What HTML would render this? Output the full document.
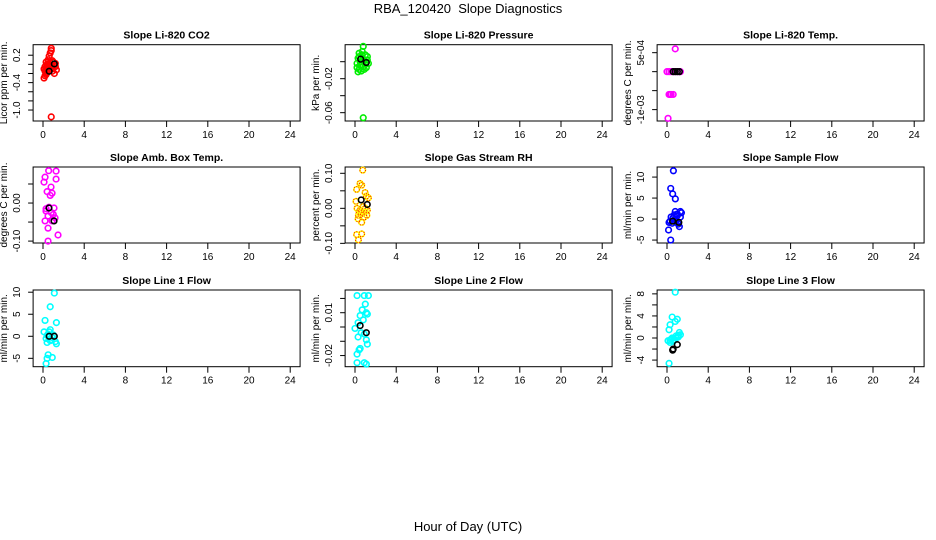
<!DOCTYPE html>
<html><head><meta charset="utf-8">
<style>
html,body{margin:0;padding:0;background:#fff;}
svg{display:block;font-family:"Liberation Sans",Arial,sans-serif;}
</style></head>
<body>
<svg id="chart" width="936" height="540" viewBox="0 0 936 540" xmlns="http://www.w3.org/2000/svg">
<rect x="0" y="0" width="936" height="540" fill="#fff"/>
<text x="468" y="13" text-anchor="middle" font-size="13">RBA_120420&#160; Slope Diagnostics</text>
<text x="468" y="531" text-anchor="middle" font-size="13">Hour of Day (UTC)</text>
</svg>
<script>
const xTicks = [0,4,8,12,16,20,24];

const p1Hours = [0.8,0.8,0.7,0.6,0.5,0.3,0.5,0.9,1.1,0.2,0.4,0.7,1.2,0.1,0.6,0.9,1.3,0.4,1.1,0.2,0.1,0.3,0.8,1.0,0.6,0.3,0.4,0.7,1.0,1.2,0.2,0.5,0.9];
const p1Values = [0.35,0.3,0.25,0.18,0.1,0.05,0.05,0.08,0.0,-0.05,-0.05,-0.02,-0.05,-0.1,-0.12,-0.1,-0.12,-0.18,-0.2,-0.25,-0.3,-0.22,-1.15,0.05,0.0,-0.1,0.0,0.04,-0.08,0.02,-0.15,-0.08,-0.15];
const p1BlackHours = [0.6,1.1];
const p1BlackValues = [-0.15,0.01];

const p2Hours = [0.8,0.4,0.7,1.0,1.2,0.3,0.6,0.9,1.3,0.2,0.5,0.8,1.1,0.4,0.3,0.6,1.0,0.5,0.7,0.9,0.2,0.4,1.2,0.8];
const p2Values = [0.018,0.01,0.012,0.008,0.006,0.004,0.005,0.002,-0.002,-0.002,-0.004,-0.006,-0.007,-0.009,-0.012,-0.011,-0.003,0.0,0.008,-0.009,-0.007,0.006,0.002,-0.066];
const p2BlackHours = [0.55,1.1];
const p2BlackValues = [0.003,-0.001];

const p3Hours = [0.8,0.0,0.2,0.4,0.6,0.8,1.0,1.2,1.3,0.2,0.4,0.6,0.3,0.1];
const p3Values = [0.0006,0,0,0,0,0,0,0,0,-0.0006,-0.0006,-0.0006,-0.0006,-0.00123];
const p3BlackHours = [0.6,0.8,1.0,1.2];
const p3BlackValues = [0,0,0,0];

const p4Hours = [0.55,1.27,0.2,0.1,1.27,0.78,0.88,0.58,1.07,0.29,0.49,0.2,0.88,1.17,0.49,1.46,0.49,0.3,0.8,1.0,0.4,0.7];
const p4Values = [0.085,0.084,0.068,0.055,0.063,0.042,0.026,-0.011,-0.013,-0.021,-0.034,-0.047,-0.047,-0.039,-0.066,-0.084,-0.1,-0.015,-0.025,-0.03,0.03,0.02];
const p4BlackHours = [0.58,1.07];
const p4BlackValues = [-0.013,-0.047];

const p5Hours = [0.75,0.49,0.16,0.65,0.98,1.3,0.1,0.49,0.98,0.33,1.15,0.65,0.16,0.65,0.33,0.2,0.8,1.1,0.4,0.9,1.2,0.6,0.3,1.0];
const p5Values = [0.109,0.071,0.054,0.066,0.045,0.03,0.02,-0.005,-0.01,-0.02,-0.02,-0.04,-0.075,-0.073,-0.09,0.0,0.005,0.035,-0.01,-0.025,-0.005,-0.015,-0.03,0.0];
const p5BlackHours = [0.6,1.19];
const p5BlackValues = [0.024,0.011];

const p6Hours = [0.62,0.36,0.55,0.81,0.8,1.3,1.0,0.7,0.4,0.3,1.1,1.4,0.9,0.2,1.2,0.15,0.36,0.6,1.0,1.3,0.5,0.8];
const p6Values = [11.5,7.3,6.0,4.8,1.8,1.8,1.2,1.0,0.5,-0.5,-1.2,1.5,-0.3,-0.8,-1.8,-2.6,-5.0,0.3,0.8,0.5,-1.0,-0.6];
const p6BlackHours = [0.55,1.15];
const p6BlackValues = [-0.5,-0.8];

const p7Hours = [1.1,0.7,0.2,1.3,0.1,0.7,0.5,1.0,0.3,0.8,1.2,0.4,1.3,0.5,0.9,0.4,0.3,0.6,0.9,0.4,0.7];
const p7Values = [9.8,6.7,3.6,3.1,1.0,1.5,0.5,0.3,-0.5,-0.8,-1.2,-1.4,-1.7,-4.2,-4.8,-5.0,-6.2,1.0,-0.3,0.2,-1.0];
const p7BlackHours = [0.6,1.1];
const p7BlackValues = [0,0];

const p8Hours = [0.2,0.9,1.3,1.0,0.7,1.2,0.5,1.1,0.8,0.3,0.0,0.6,0.9,0.3,1.1,1.2,0.5,0.4,0.2,0.2,0.9,1.1];
const p8Values = [0.022,0.022,0.022,0.016,0.012,0.009,0.008,0.01,0.005,0.003,-0.001,-0.004,-0.005,-0.007,-0.009,-0.012,-0.015,-0.016,-0.019,-0.025,-0.025,-0.026];
const p8BlackHours = [0.5,1.1];
const p8BlackValues = [0.001,-0.004];

const p9Hours = [0.8,0.5,1.0,0.8,0.3,0.2,1.3,0.9,0.5,0.1,0.7,1.1,0.3,0.2,1.2,0.6,0.4,0.9,1.1,0.3];
const p9Values = [8.3,3.8,3.4,3.0,2.4,1.5,0.6,0.4,0.0,-0.5,-0.3,0.2,-0.8,-4.6,1.0,-0.6,-0.2,0.0,0.5,-0.4];
const p9BlackHours = [0.6,1.0,0.55];
const p9BlackValues = [-2.0,-1.2,-2.2];

const p1Ticks = [0.2,0,-0.2,-0.4,-0.6,-0.8,-1.0];
const p1Labels = ["0.2","","","-0.4","","","-1.0"];
const p2Ticks = [0,-0.02,-0.04,-0.06];
const p2Labels = ["","-0.02","","-0.06"];
const p3Ticks = [0.0005,0,-0.0005,-0.001];
const p3Labels = ["5e-04","","","-1e-03"];
const p4Ticks = [0.05,0,-0.05,-0.1];
const p4Labels = ["","0.00","","-0.10"];
const p5Ticks = [0.1,0.05,0,-0.05,-0.1];
const p5Labels = ["0.10","","0.00","","-0.10"];
const p6Ticks = [10,5,0,-5];
const p6Labels = ["10","5","0","-5"];
const p7Ticks = [10,5,0,-5];
const p7Labels = ["10","5","0","-5"];
const p8Ticks = [0.02,0.01,0,-0.01,-0.02];
const p8Labels = ["","0.01","","","-0.02"];
const p9Ticks = [8,6,4,2,0,-2,-4];
const p9Labels = ["8","","4","","0","","-4"];

const panels = [
 {t:"Slope Li-820 CO2",yl:"Licor ppm per min.",col:0,row:0,lo:-1.24,hi:0.43,h:p1Hours,v:p1Values,bh:p1BlackHours,bv:p1BlackValues,ticks:p1Ticks,labels:p1Labels,c:"#ff0000",n:"co2"},
 {t:"Slope Li-820 Pressure",yl:"kPa per min.",col:1,row:0,lo:-0.0698,hi:0.02,h:p2Hours,v:p2Values,bh:p2BlackHours,bv:p2BlackValues,ticks:p2Ticks,labels:p2Labels,c:"#00ee00",n:"pressure"},
 {t:"Slope Li-820 Temp.",yl:"degrees C per min.",col:2,row:0,lo:-0.0013,hi:0.00071,h:p3Hours,v:p3Values,bh:p3BlackHours,bv:p3BlackValues,ticks:p3Ticks,labels:p3Labels,c:"#ff00ff",n:"temp"},
 {t:"Slope Amb. Box Temp.",yl:"degrees C per min.",col:0,row:1,lo:-0.105,hi:0.0947,h:p4Hours,v:p4Values,bh:p4BlackHours,bv:p4BlackValues,ticks:p4Ticks,labels:p4Labels,c:"#ff00ff",n:"amb-box-temp"},
 {t:"Slope Gas Stream RH",yl:"percent per min.",col:1,row:1,lo:-0.099,hi:0.118,h:p5Hours,v:p5Values,bh:p5BlackHours,bv:p5BlackValues,ticks:p5Ticks,labels:p5Labels,c:"#ffff00",n:"rh"},
 {t:"Slope Sample Flow",yl:"ml/min per min.",col:2,row:1,lo:-5.7,hi:12.4,h:p6Hours,v:p6Values,bh:p6BlackHours,bv:p6BlackValues,ticks:p6Ticks,labels:p6Labels,c:"#0000ff",n:"sample-flow"},
 {t:"Slope Line 1 Flow",yl:"ml/min per min.",col:0,row:2,lo:-6.9,hi:10.5,h:p7Hours,v:p7Values,bh:p7BlackHours,bv:p7BlackValues,ticks:p7Ticks,labels:p7Labels,c:"#00ffff",n:"line1-flow"},
 {t:"Slope Line 2 Flow",yl:"ml/min per min.",col:1,row:2,lo:-0.0278,hi:0.0259,h:p8Hours,v:p8Values,bh:p8BlackHours,bv:p8BlackValues,ticks:p8Ticks,labels:p8Labels,c:"#00ffff",n:"line2-flow"},
 {t:"Slope Line 3 Flow",yl:"ml/min per min.",col:2,row:2,lo:-5.2,hi:8.7,h:p9Hours,v:p9Values,bh:p9BlackHours,bv:p9BlackValues,ticks:p9Ticks,labels:p9Labels,c:"#00ffff",n:"line3-flow"}
];

const NS="http://www.w3.org/2000/svg";
const svg=document.getElementById('chart');
function mk(tag,attrs,parent){const e=document.createElementNS(NS,tag);for(const k in attrs)e.setAttribute(k,attrs[k]);(parent||svg).appendChild(e);return e;}
const rowTop=[44.7,167,290], rowBot=[121,243,366.7];
const unit=10.3;
panels.forEach(p=>{
  const x0=43+p.col*312;
  const top=rowTop[p.row], bot=rowBot[p.row];
  const left=x0-0.96*unit, right=x0+24.96*unit;
  const xs=h=>x0+h*unit;
  const ys=v=>bot-(v-p.lo)/(p.hi-p.lo)*(bot-top);
  const g=mk('g',{});
  
  
  const title=mk('text',{x:(left+right)/2,y:top-6,'text-anchor':'middle','font-size':'10.5','font-weight':'bold'},g);
  title.textContent=p.t;
  
  
  xTicks.forEach(t=>{
    const tk=mk('line',{x1:xs(t),x2:xs(t),y1:bot,y2:bot+6,stroke:'#000','stroke-width':1},g);
    
    
    const lb=mk('text',{x:xs(t),y:bot+17,'text-anchor':'middle','font-size':'10'},g);
    lb.textContent=t;
    
    
  });
  p.ticks.forEach((t,i)=>{
    const y=ys(t);
    const tk=mk('line',{x1:left-5,x2:left,y1:y,y2:y,stroke:'#000','stroke-width':1},g);
    
    
    if(p.labels[i]){
      const lb=mk('text',{x:0,y:0,'text-anchor':'middle','font-size':'10',transform:`translate(${left-13},${y}) rotate(-90)`},g);
      lb.textContent=p.labels[i];
      
      
    }
  });
  const yt=mk('text',{x:0,y:0,'text-anchor':'middle','font-size':'10',transform:`translate(${left-26},${(top+bot)/2}) rotate(-90)`},g);
  yt.textContent=p.yl;
  
  
  const box=mk('rect',{x:left,y:top,width:right-left,height:bot-top,fill:'none',stroke:'#000','stroke-width':1},g);
  
  
  p.h.forEach((h,i)=>{
    const c=mk('circle',{cx:xs(h),cy:ys(p.v[i]),r:2.8,fill:'none',stroke:p.c,'stroke-width':1.6},g);
    
    
    if(p.n==='rh'){
      const c2=mk('circle',{cx:xs(h),cy:ys(p.v[i]),r:2.8,fill:'none',stroke:'#ff0000','stroke-width':1,'stroke-dasharray':'1 1.5'},g);
      
      
    }
  });
  p.bh.forEach((h,i)=>{
    const c=mk('circle',{cx:xs(h),cy:ys(p.bv[i]),r:2.8,fill:'none',stroke:'#000','stroke-width':1.6},g);
    
    
  });
});
</script>
</body></html>
